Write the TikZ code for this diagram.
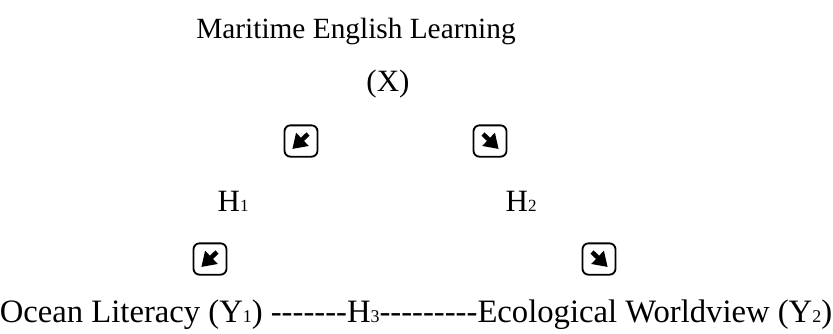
\documentclass[tikz,border=0pt]{standalone}
\usepackage{fontspec}
\setmainfont{Liberation Serif}
\usepackage{graphicx}
\usetikzlibrary{arrows.meta}

% small digit on the baseline, as in H1, Y1
\newcommand{\lowdig}[1]{\scalebox{0.55}{#1}}

\tikzset{
    arrowbox/.style={draw, line width=0.55pt, rounded corners=1.8pt, minimum width=9.9pt, minimum height=9.4pt, inner sep=0pt},
    glyph/.style={line width=1.35pt, -{Triangle[length=4.2pt, width=5.2pt]}}
}

\begin{document}
\begin{tikzpicture}[x=0.3pt, y=-0.3pt, font=\fontsize{9.3}{11}\selectfont]
    \useasboundingbox (0,0) rectangle (833,333);
    \node (mel) [anchor=base, font=\fontsize{8.8}{11}\selectfont] at (356,38) {Maritime English Learning};
    \node (x) [anchor=base] at (388,91) {(X)};
    \node (a1) [arrowbox] at (301,141) {};
    \node (a2) [arrowbox] at (490,141) {};
    \node (h1) [anchor=base west, inner sep=0pt] at (217,211) {H\lowdig{1}};
    \node (h2) [anchor=base west, inner sep=0pt] at (505,211) {H\lowdig{2}};
    \node (a3) [arrowbox] at (210,259) {};
    \node (a4) [arrowbox] at (599,259) {};
    \node (ol) [anchor=base, inner sep=0pt, font=\fontsize{9.8}{12}\selectfont] at (416,322)
        {Ocean Literacy (Y\lowdig{1}) -{}-{}-{}-{}-{}-{}-H\lowdig{3}-{}-{}-{}-{}-{}-{}-{}-{}-Ecological Worldview (Y\lowdig{2})};
    % arrows inside the boxes
    \draw[glyph] ([shift={(2.1pt,2.1pt)}]a1.center) -- ([shift={(-2.6pt,-2.4pt)}]a1.center);
    \draw[glyph] ([shift={(-2.1pt,2.1pt)}]a2.center) -- ([shift={(2.6pt,-2.4pt)}]a2.center);
    \draw[glyph] ([shift={(2.1pt,2.1pt)}]a3.center) -- ([shift={(-2.6pt,-2.4pt)}]a3.center);
    \draw[glyph] ([shift={(-2.1pt,2.1pt)}]a4.center) -- ([shift={(2.6pt,-2.4pt)}]a4.center);
\end{tikzpicture}
\end{document}
